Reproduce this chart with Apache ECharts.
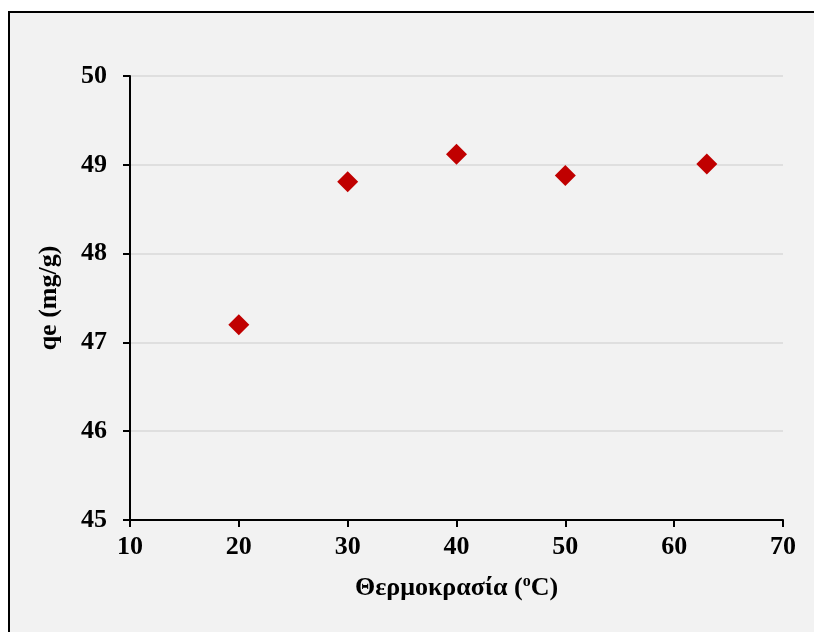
<!DOCTYPE html>
<html>
<head>
<meta charset="utf-8">
<script src="https://cdn.jsdelivr.net/npm/echarts@6/dist/echarts.min.js"></script>
<style>
  html, body { margin: 0; padding: 0; background: #ffffff; }
  #main { width: 814px; height: 632px; }
</style>
</head>
<body>
<div id="main"></div>
<script>
// temperature (x) and adsorbed amount (y)
const temperature = [20, 30, 40, 50, 63];
const qe = [47.2, 48.81, 49.12, 48.88, 49.01];

const xTicks = { min: 10, max: 70, interval: 10 };
const yTicks = { min: 45, max: 50, interval: 1 };

const font = "'Liberation Serif', 'Times New Roman', serif";

let chart = echarts.init(document.getElementById('main'));

let option = {
    backgroundColor: '#ffffff',
    animation: false,
    graphic: [{
        type: 'rect',
        z: -10,
        shape: { x: 9, y: 12, width: 900, height: 700 },
        style: { fill: '#f2f2f2', stroke: '#000000', lineWidth: 2 }
    }],
    grid: { left: 130, right: 31, top: 76, bottom: 112 },
    xAxis: {
        type: 'value',
        min: xTicks.min,
        max: xTicks.max,
        interval: xTicks.interval,
        name: 'Θερμοκρασία ({sup|o}C)',
        nameLocation: 'middle',
        nameGap: 54,
        nameTextStyle: {
            fontFamily: font, fontWeight: 'bold', fontSize: 26, color: '#000',
            rich: {
                sup: { fontFamily: font, fontWeight: 'bold', fontSize: 16, color: '#000', padding: [0, 0, 12, 0] }
            }
        },
        axisLine: { lineStyle: { color: '#000', width: 2 } },
        axisTick: { show: true, length: 7, lineStyle: { color: '#000', width: 2 } },
        axisLabel: { fontFamily: font, fontWeight: 'bold', fontSize: 26, color: '#000', margin: 14 },
        splitLine: { show: false }
    },
    yAxis: {
        type: 'value',
        min: yTicks.min,
        max: yTicks.max,
        interval: yTicks.interval,
        name: 'qe (mg/g)',
        nameLocation: 'middle',
        nameGap: 68,
        nameRotate: 90,
        nameTextStyle: { fontFamily: font, fontWeight: 'bold', fontSize: 26, color: '#000' },
        axisLine: { show: true, lineStyle: { color: '#000', width: 2 } },
        axisTick: { show: true, length: 7, lineStyle: { color: '#000', width: 2 } },
        axisLabel: { fontFamily: font, fontWeight: 'bold', fontSize: 26, color: '#000', margin: 23 },
        splitLine: { show: true, lineStyle: { color: '#d9d9d9', width: 1.5 } }
    },
    series: [{
        type: 'scatter',
        symbol: 'diamond',
        symbolSize: 21,
        itemStyle: { color: '#c00000', opacity: 1 },
        data: temperature.map((t, i) => [t, qe[i]])
    }]
};

chart.setOption(option);
</script>
</body>
</html>
